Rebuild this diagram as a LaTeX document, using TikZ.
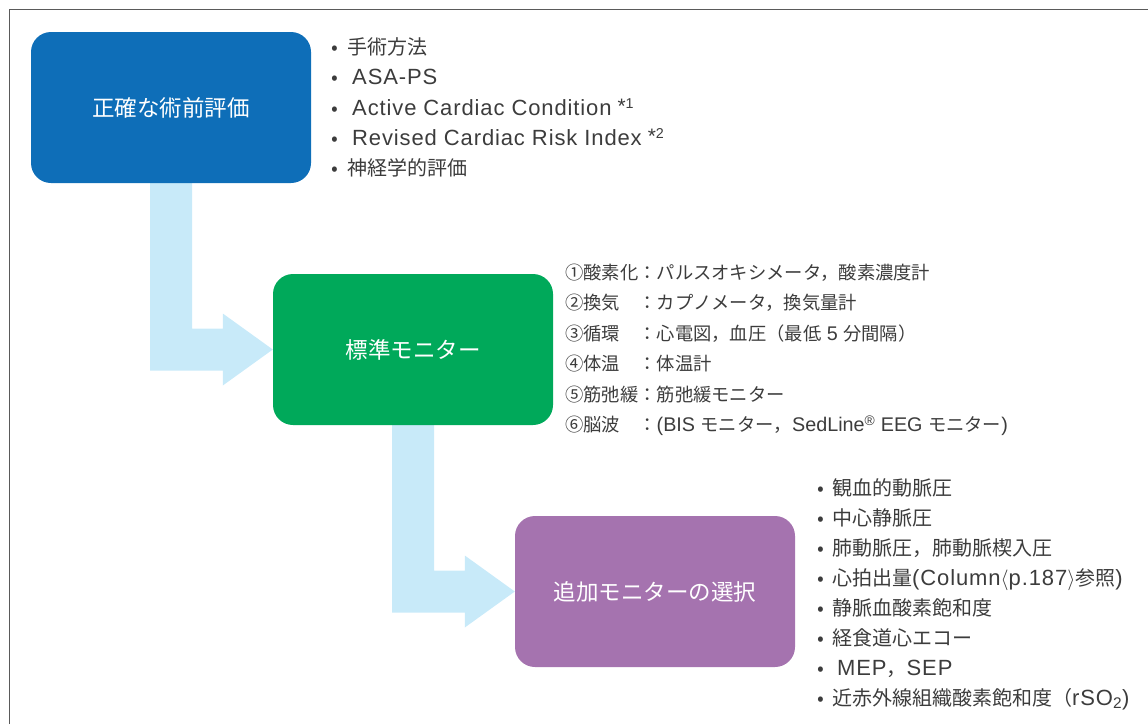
\documentclass[tikz,border=0pt]{standalone}
\usepackage{fontspec}
\setmainfont{Noto Sans CJK JP}
\newfontfamily\latfont[Scale=1.1,LetterSpace=4]{Liberation Sans}
\newfontfamily\latbfont[Scale=1.08]{Liberation Sans}
\newcommand\LL[1]{{\latfont #1}}
\newcommand\LB[1]{{\latbfont #1}}
\newcommand\noteref[1]{\hspace{6pt}\raisebox{2pt}{\fontsize{19}{19}\selectfont *}\raisebox{7pt}{\fontsize{13}{13}\selectfont #1}}
\usetikzlibrary{calc,backgrounds}
\definecolor{bxblue}{RGB}{14,110,184}
\definecolor{bxgreen}{RGB}{0,169,90}
\definecolor{bxpurple}{RGB}{165,115,175}
\definecolor{arrowblue}{RGB}{200,234,249}
\definecolor{txt}{RGB}{60,60,60}
\definecolor{framegray}{RGB}{90,90,90}
\begin{document}
\begin{tikzpicture}[x=1pt,y=-1pt,
  box/.style={rounded corners=20pt, minimum width=280pt, minimum height=151pt, inner sep=0pt, text=white, font=\fontsize{22.5}{26}\selectfont},
  flow/.style={fill=arrowblue},
  item/.style={anchor=base west, inner sep=0pt, text=txt, font=\fontsize{20}{24}\selectfont},
  itemb/.style={anchor=base west, inner sep=0pt, text=txt, font=\fontsize{18.3}{24}\selectfont},
  bul/.style={anchor=base, inner sep=0pt, text=txt, font=\fontsize{20}{24}\selectfont}]
\useasboundingbox (0,0) rectangle (1148,724);
\draw[framegray, line width=1.6pt] (9.5,724) -- (9.5,9.5) -- (1148,9.5);

\node[box, fill=bxblue] (pre) at (171,107.5) {正確な術前評価};
\node[box, fill=bxgreen] (std) at (413,349.5) {標準モニター};
\node[box, fill=bxpurple] (add) at (655,591.5) {追加モニターの選択};

\begin{scope}[on background layer]
\fill[flow] let \p1=(pre.south), \p2=(std.west) in
  (\x1-21pt,\y1) -- (\x1+21pt,\y1) -- (\x1+21pt,\y2+21pt) -- (\x2-50pt,\y2+21pt)
  -- (\x2-50pt,\y2+36pt) -- (\p2) -- (\x2-50pt,\y2-36pt) -- (\x2-50pt,\y2-21pt)
  -- (\x1-21pt,\y2-21pt) -- cycle;
\fill[flow] let \p1=(std.south), \p2=(add.west) in
  (\x1-21pt,\y1) -- (\x1+21pt,\y1) -- (\x1+21pt,\y2+21pt) -- (\x2-50pt,\y2+21pt)
  -- (\x2-50pt,\y2+36pt) -- (\p2) -- (\x2-50pt,\y2-36pt) -- (\x2-50pt,\y2-21pt)
  -- (\x1-21pt,\y2-21pt) -- cycle;
\end{scope}

% list 1
\foreach \t [count=\i] in {{手術方法},{\hspace{5pt}\LL{ASA-PS}},{\hspace{5pt}\LL{Active Cardiac Condition\noteref{1}}},{\hspace{5pt}\LL{Revised Cardiac Risk Index\noteref{2}}},{神経学的評価}} {
  \node[bul] (ba-\i) at (335,{54.5+30.25*(\i-1)}) {•};
  \node[item] (ta-\i) at (347,{54.5+30.25*(\i-1)}) {\t};
}

% list 2
\foreach \t [count=\i] in {{①酸素化：パルスオキシメータ，酸素濃度計},{②換気　：カプノメータ，換気量計},{③循環　：心電図，血圧（最低\LB{ 5 }分間隔）},{④体温　：体温計},{⑤筋弛緩：筋弛緩モニター},{⑥脳波　：\LB{(BIS }モニター，\LB{SedLine\textsuperscript{®} EEG }モニター\LB{)}}} {
  \node[itemb] (tb-\i) at (565,{279.5+30.4*(\i-1)}) {\t};
}

% list 3
\foreach \t [count=\i] in {{観血的動脈圧},{中心静脈圧},{肺動脈圧，肺動脈楔入圧},{心拍出量\LL{(Column}$\langle$\LL{p.187}$\rangle$参照\LL{)}},{静脈血酸素飽和度},{経食道心エコー},{\hspace{5pt}\LL{MEP}，\LL{SEP}},{近赤外線組織酸素飽和度（\LL{rSO\textsubscript{2})}}} {
  \node[bul] (bc-\i) at (821,{495+30*(\i-1)}) {•};
  \node[item] (tc-\i) at (832,{495+30*(\i-1)}) {\t};
}
\end{tikzpicture}
\end{document}
